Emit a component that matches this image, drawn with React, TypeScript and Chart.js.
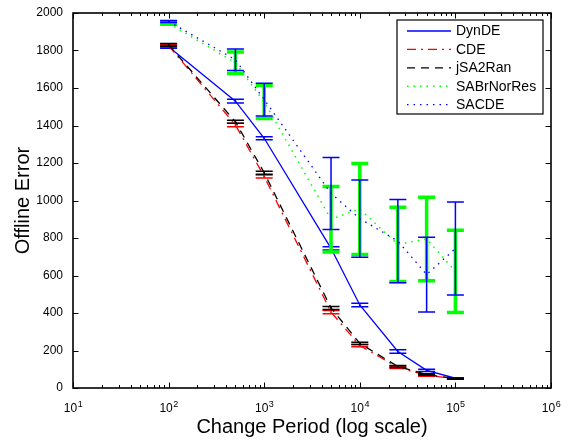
import React, { useEffect, useRef } from 'react';
import { Chart, registerables } from 'chart.js';

Chart.register(...registerables);

// ---------- DATA ----------
const changePeriods = [100, 500, 1000, 5000, 10000, 25000, 50000, 100000];
const seriesNames = ['DynDE', 'CDE', 'jSA2Ran', 'SABrNorRes', 'SACDE'];

const dynDEMean = [1820, 1530, 1332, 745, 443, 195, 94, 52];
const dynDEStd = [8, 10, 8, 9, 9, 9, 6, 3];

const cdeMean = [1826, 1403, 1128, 405, 226, 110, 68, 50];
const cdeStd = [8, 9, 8, 9, 6, 6, 5, 3];

const jsaMean = [1830, 1420, 1148, 427, 238, 115, 72, 50];
const jsaStd = [8, 8, 8, 8, 6, 5, 4, 3];

const sabrMean = [1945, 1735, 1526, 900, 955, 766, 795, 622];
const sabrStd = [5, 57, 88, 175, 243, 198, 223, 219];

const sacdeMean = [1955, 1751, 1538, 1038, 903, 784, 605, 744];
const sacdeStd = [5, 57, 87, 192, 206, 222, 199, 248];

const xTickValues = [10, 100, 1000, 10000, 100000, 1000000];
const xTickBase = '10';
const xTickExponents = ['1', '2', '3', '4', '5', '6'];
const yTickValues = [0, 200, 400, 600, 800, 1000, 1200, 1400, 1600, 1800, 2000];
const xTitle = 'Change Period (log scale)';
const yTitle = 'Offline Error';

// ---------- STYLES ----------
const FONT = '"Liberation Sans", Arial, Helvetica, sans-serif';

const styles = [
  { color: '#0000ff', dash: [] as number[], width: 1.3, barWidth: 1.5, order: 5 },
  { color: '#ff0000', dash: [9, 5, 2, 5], width: 1.3, barWidth: 1.5, order: 4 },
  { color: '#000000', dash: [8, 6], width: 1.3, barWidth: 1.5, order: 3 },
  { color: '#00ff00', dash: [1.5, 5], width: 1.5, barWidth: 3.5, order: 2 },
  { color: '#0000ff', dash: [1.5, 5], width: 1.3, barWidth: 1.5, order: 1 },
];

const means = [dynDEMean, cdeMean, jsaMean, sabrMean, sacdeMean];
const stds = [dynDEStd, cdeStd, jsaStd, sabrStd, sacdeStd];

const errorBarPlugin = {
  id: 'errorBars',
  afterDatasetDraw(chart: any, args: any) {
    const ds = chart.data.datasets[args.index];
    const errs: number[] = ds.errors;
    if (!errs) return;
    const { ctx, scales } = chart;
    const xs = scales.x;
    const ys = scales.y;
    const cap = 8.5;
    ctx.save();
    ctx.strokeStyle = ds.borderColor;
    ctx.lineWidth = ds.errorWidth;
    ctx.setLineDash([]);
    ds.data.forEach((p: any, i: number) => {
      const px = xs.getPixelForValue(p.x);
      const yTop = ys.getPixelForValue(p.y + errs[i]);
      const yBot = ys.getPixelForValue(p.y - errs[i]);
      ctx.beginPath();
      ctx.moveTo(px, yTop);
      ctx.lineTo(px, yBot);
      ctx.moveTo(px - cap, yTop);
      ctx.lineTo(px + cap, yTop);
      ctx.moveTo(px - cap, yBot);
      ctx.lineTo(px + cap, yBot);
      ctx.stroke();
    });
    ctx.restore();
  },
};

const framePlugin = {
  id: 'frame',
  afterDraw(chart: any) {
    const { ctx, chartArea, scales } = chart;
    const { left, right, top, bottom } = chartArea;
    const xs = scales.x;
    const ys = scales.y;
    ctx.save();
    ctx.strokeStyle = '#000';
    ctx.lineWidth = 1;
    ctx.setLineDash([]);
    ctx.beginPath();
    for (let k = 0; k < xTickValues.length; k++) {
      const v = xTickValues[k];
      const px = Math.round(xs.getPixelForValue(v)) + 0.5;
      ctx.moveTo(px, bottom);
      ctx.lineTo(px, bottom - 5.5);
      ctx.moveTo(px, top);
      ctx.lineTo(px, top + 5.5);
      if (k < xTickValues.length - 1) {
        for (let m = 2; m <= 9; m++) {
          const mx = Math.round(xs.getPixelForValue(v * m)) + 0.5;
          ctx.moveTo(mx, bottom);
          ctx.lineTo(mx, bottom - 3);
          ctx.moveTo(mx, top);
          ctx.lineTo(mx, top + 3);
        }
      }
    }
    yTickValues.forEach((v) => {
      const py = Math.round(ys.getPixelForValue(v)) + 0.5;
      ctx.moveTo(left, py);
      ctx.lineTo(left + 5.5, py);
      ctx.moveTo(right, py);
      ctx.lineTo(right - 5.5, py);
    });
    ctx.stroke();
    ctx.lineWidth = 1.6;
    ctx.strokeRect(left, top, right - left, bottom - top);

    // x tick labels with superscript exponents
    ctx.fillStyle = '#000';
    ctx.textBaseline = 'alphabetic';
    ctx.textAlign = 'left';
    xTickValues.forEach((v, k) => {
      const px = xs.getPixelForValue(v);
      ctx.font = `12px ${FONT}`;
      const wb = ctx.measureText(xTickBase).width;
      ctx.font = `9px ${FONT}`;
      const we = ctx.measureText(xTickExponents[k]).width;
      const x0 = px - (wb + we) / 2;
      ctx.font = `12px ${FONT}`;
      ctx.fillText(xTickBase, x0, bottom + 24);
      ctx.font = `9px ${FONT}`;
      ctx.fillText(xTickExponents[k], x0 + wb + 0.5, bottom + 18.5);
    });
    ctx.restore();
  },
};

const legendPlugin = {
  id: 'customLegend',
  afterDraw(chart: any) {
    const { ctx, chartArea } = chart;
    const boxRight = chartArea.right - 8;
    const boxLeft = boxRight - 146;
    const boxTop = chartArea.top + 7;
    const rowH = 18.4;
    const boxH = 94;
    ctx.save();
    ctx.fillStyle = '#fff';
    ctx.fillRect(boxLeft, boxTop, boxRight - boxLeft, boxH);
    ctx.strokeStyle = '#000';
    ctx.lineWidth = 1.2;
    ctx.setLineDash([]);
    ctx.strokeRect(boxLeft, boxTop, boxRight - boxLeft, boxH);
    ctx.font = `14px ${FONT}`;
    ctx.textBaseline = 'middle';
    ctx.textAlign = 'left';
    seriesNames.forEach((name, i) => {
      const y = boxTop + 11 + i * rowH;
      const st = styles[i];
      ctx.strokeStyle = st.color;
      ctx.lineWidth = st.width;
      ctx.setLineDash(st.dash);
      ctx.beginPath();
      ctx.moveTo(boxLeft + 10, y);
      ctx.lineTo(boxLeft + 54, y);
      ctx.stroke();
      ctx.setLineDash([]);
      ctx.fillStyle = '#000';
      ctx.fillText(name, boxLeft + 59, y + 0.5);
    });
    ctx.restore();
  },
};

export default function App() {
  const canvasRef = useRef<HTMLCanvasElement | null>(null);

  useEffect(() => {
    if (!canvasRef.current) return;
    const datasets = seriesNames.map((name, i) => ({
      label: name,
      data: changePeriods.map((x, j) => ({ x, y: means[i][j] })),
      errors: stds[i],
      errorWidth: styles[i].barWidth,
      borderColor: styles[i].color,
      backgroundColor: styles[i].color,
      borderWidth: styles[i].width,
      borderDash: styles[i].dash,
      pointRadius: 0,
      pointHoverRadius: 0,
      tension: 0,
      fill: false,
      order: styles[i].order,
    }));

    const chart = new Chart(canvasRef.current, {
      type: 'line',
      data: { datasets: datasets as any },
      options: {
        responsive: false,
        animation: false,
        events: [],
        layout: { padding: { left: 0, right: 11, top: 13, bottom: 0 } },
        plugins: {
          legend: { display: false },
          tooltip: { enabled: false },
        },
        scales: {
          x: {
            type: 'logarithmic',
            min: 10,
            max: 1000000,
            afterBuildTicks: (scale: any) => {
              scale.ticks = xTickValues.map((v) => ({ value: v }));
            },
            afterFit: (scale: any) => {
              scale.height = 53;
              scale.paddingLeft = 0;
              scale.paddingRight = 0;
            },
            grid: { display: false, drawTicks: false },
            border: { display: false },
            ticks: { display: false },
            title: {
              display: true,
              text: xTitle,
              color: '#000',
              font: { family: FONT, size: 20 },
              padding: { top: 0, bottom: 2 },
            },
          },
          y: {
            type: 'linear',
            min: 0,
            max: 2000,
            afterBuildTicks: (scale: any) => {
              scale.ticks = yTickValues.map((v) => ({ value: v }));
            },
            afterFit: (scale: any) => {
              scale.width = 73;
              scale.paddingTop = 0;
              scale.paddingBottom = 0;
            },
            grid: { display: false, drawTicks: false },
            border: { display: false },
            ticks: {
              padding: 10,
              color: '#000',
              font: { family: FONT, size: 12 },
              callback: (v: any) => String(v),
            },
            title: {
              display: true,
              text: yTitle,
              color: '#000',
              font: { family: FONT, size: 20 },
              padding: { top: 11, bottom: 0 },
            },
          },
        },
      },
      plugins: [errorBarPlugin, framePlugin, legendPlugin],
    });
    return () => chart.destroy();
  }, []);

  return (
    <div style={{ position: 'fixed', left: 0, top: 0, width: 562, height: 441, background: '#fff' }}>
      <canvas ref={canvasRef} width={562} height={441} style={{ display: 'block' }} />
    </div>
  );
}
